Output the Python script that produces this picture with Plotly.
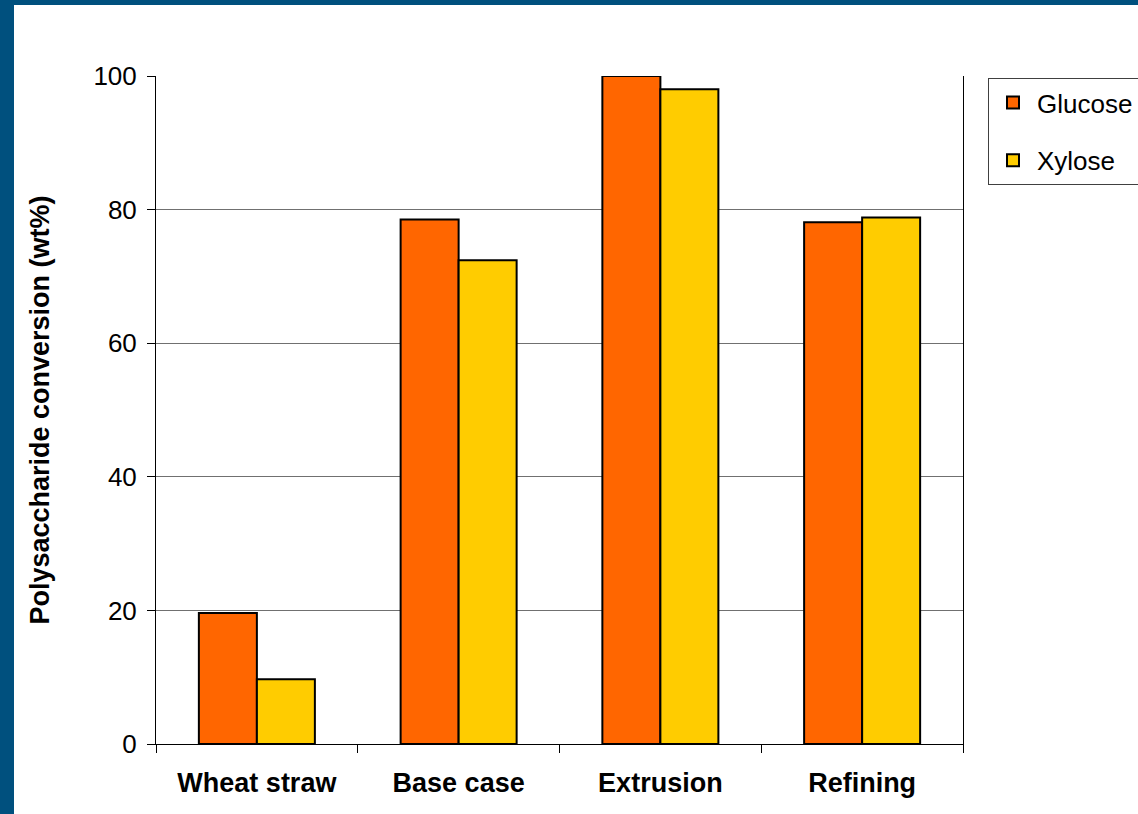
import plotly.graph_objects as go

# Enzymatic hydrolysis yields per pretreatment
categories = ["Wheat straw", "Base case", "Extrusion", "Refining"]
glucose = [19.6, 78.5, 100.0, 78.1]
xylose = [9.7, 72.4, 98.0, 78.8]
y_ticks = [0, 20, 40, 60, 80, 100]

FONT = "Liberation Sans, Arial, sans-serif"
W, H = 1138, 814
L, R, T, B = 156, 175, 76, 70
plot_w = W - L - R
plot_h = H - T - B


def px_x(p):
    return (p - L) / plot_w


def px_y(p):
    return (H - B - p) / plot_h


fig = go.Figure()
fig.add_trace(go.Bar(
    name="Glucose", x=categories, y=glucose,
    marker=dict(color="#FF6600", line=dict(color="#000000", width=2)),
    legendgroup="g1",
))
fig.add_trace(go.Bar(
    name="Xylose", x=categories, y=xylose,
    marker=dict(color="#FFCC00", line=dict(color="#000000", width=2)),
    legendgroup="g2",
))

# dark blue frame along the left and top edges of the slide
frame = "#00507E"
shapes = [
    dict(type="rect", xref="paper", yref="paper",
         x0=px_x(-2), x1=px_x(14), y0=px_y(-2), y1=px_y(H + 2),
         fillcolor=frame, line=dict(width=0), layer="above"),
    dict(type="rect", xref="paper", yref="paper",
         x0=px_x(-2), x1=px_x(W + 2), y0=px_y(5), y1=px_y(-2),
         fillcolor=frame, line=dict(width=0), layer="above"),
]

fig.update_layout(
    width=W, height=H,
    margin=dict(l=L, r=R, t=T, b=B, pad=0, autoexpand=False),
    paper_bgcolor="white", plot_bgcolor="white",
    barmode="group", bargap=0.425, bargroupgap=0,
    font=dict(family=FONT, size=26, color="#000000"),
    showlegend=True,
    legend=dict(
        x=px_x(988), y=px_y(78), xanchor="left", yanchor="top",
        bordercolor="#404040", borderwidth=1, bgcolor="white",
        font=dict(family=FONT, size=26, color="#000000"),
        traceorder="grouped", tracegroupgap=21, itemwidth=38,
        itemclick=False,
    ),
    shapes=shapes,
)

fig.update_xaxes(
    showline=True, linecolor="#000000", linewidth=1,
    ticks="outside", tickson="boundaries", ticklen=8, tickcolor="#000000",
    tickfont=dict(family=FONT, size=27, color="#000000", weight="bold"),
    ticklabelstandoff=15,
    showgrid=False, zeroline=False,
)
fig.update_yaxes(
    range=[0, 100], tickvals=y_ticks, ticktext=[str(v) for v in y_ticks],
    showline=True, linecolor="#000000", linewidth=1, mirror=True,
    ticks="outside", ticklen=8, tickcolor="#000000",
    tickfont=dict(family=FONT, size=26, color="#000000"),
    ticklabelstandoff=5,
    showgrid=True, gridcolor="#707070", gridwidth=1, zeroline=False,
    title=dict(text="<b>Polysaccharide conversion (wt%)</b>",
               font=dict(family=FONT, size=27, color="#000000"),
               standoff=35),
)

fig.write_html("out.html")
